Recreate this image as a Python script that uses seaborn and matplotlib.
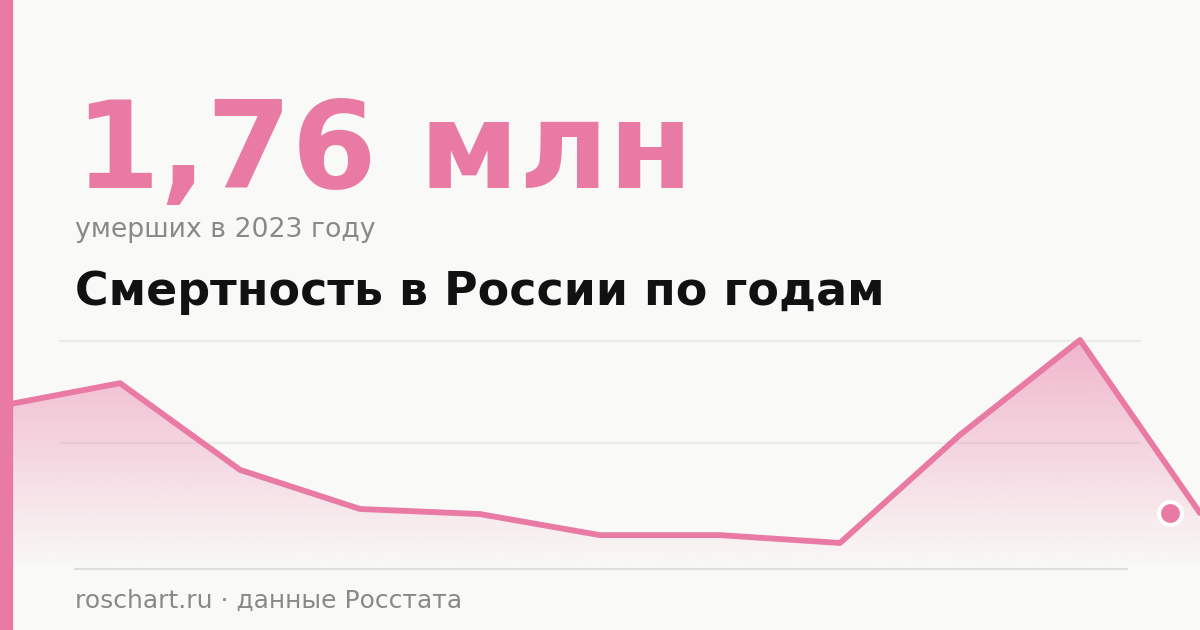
import numpy as np
import matplotlib
matplotlib.use("Agg")
import matplotlib.pyplot as plt
import matplotlib.transforms as mtransforms
from matplotlib.patches import Rectangle
import seaborn as sns

# Data (millions of deaths)
years = [2013, 2014, 2015, 2016, 2017, 2018, 2019, 2020, 2021, 2022, 2023]
deaths = [2.209, 2.276, 2.021, 1.906, 1.891, 1.829, 1.829, 1.806, 2.124, 2.403, 1.894]
grid_values = [2.4, 2.1]
headline = "1,76 млн"
subtitle = "умерших в 2023 году"
title = "Смертность в России по годам"
source = "roschart.ru · данные Росстата"

PINK = "#E87AA4"
BG = "#F9F9F7"

sns.set_theme(style="white")
plt.rcParams["font.family"] = ["DejaVu Sans"]

fig = plt.figure(figsize=(12, 6.3), dpi=100, facecolor=BG)
ax = fig.add_axes([0, 1 - 569 / 630, 1, (569 - 330) / 630])
ax.set_facecolor("none")

ylo, yhi = 1.7294, 2.4324
ax.set_xlim(years[0], years[-1])
ax.set_ylim(ylo, yhi)

# gridlines
for g in grid_values:
    ax.axhline(g, xmin=0.05, xmax=0.95, color="#ECECE9", lw=1.6, zorder=0)
ax.axhline(ylo, xmin=0.0625, xmax=0.939, color="#DEDEDB", lw=1.6, zorder=1, clip_on=False)

# gradient fill under the line
poly = ax.fill_between(years, deaths, ylo, color="none")
grad = np.zeros((256, 1, 4))
rgb = matplotlib.colors.to_rgb(PINK)
grad[..., 0], grad[..., 1], grad[..., 2] = rgb
grad[:, 0, 3] = np.linspace(0.55, 0.0, 256)
im = ax.imshow(grad, extent=[years[0], years[-1], ylo, yhi], origin="upper",
               aspect="auto", zorder=1)
im.set_clip_path(poly.get_paths()[0], transform=ax.transData)

sns.lineplot(x=years, y=deaths, ax=ax, color=PINK, lw=4.2, zorder=3)

# highlighted latest point
off = mtransforms.offset_copy(ax.transData, fig=fig, x=-30, y=0, units="dots")
ax.scatter([years[-1]], [deaths[-1]], s=270, color=PINK, edgecolor="white",
           linewidth=2.9, zorder=4, transform=off, clip_on=False)

ax.axis("off")

# left accent bar
fig.patches.append(Rectangle((0, 0), 12 / 1200, 1, transform=fig.transFigure,
                             color=PINK, zorder=10))

fig.text(75 / 1200, 1 - 188 / 630, headline, color=PINK, fontsize=88,
         fontweight="bold", va="baseline")
fig.text(75 / 1200, 1 - 237 / 630, subtitle, color="#8A8A85", fontsize=19.3,
         va="baseline")
fig.text(75 / 1200, 1 - 305 / 630, title, color="#111111", fontsize=33,
         fontweight="bold", va="baseline")
fig.text(75 / 1200, 1 - 608 / 630, source, color="#8A8A85", fontsize=18,
         va="baseline")

fig.savefig("out.png", dpi=100, facecolor=BG)
